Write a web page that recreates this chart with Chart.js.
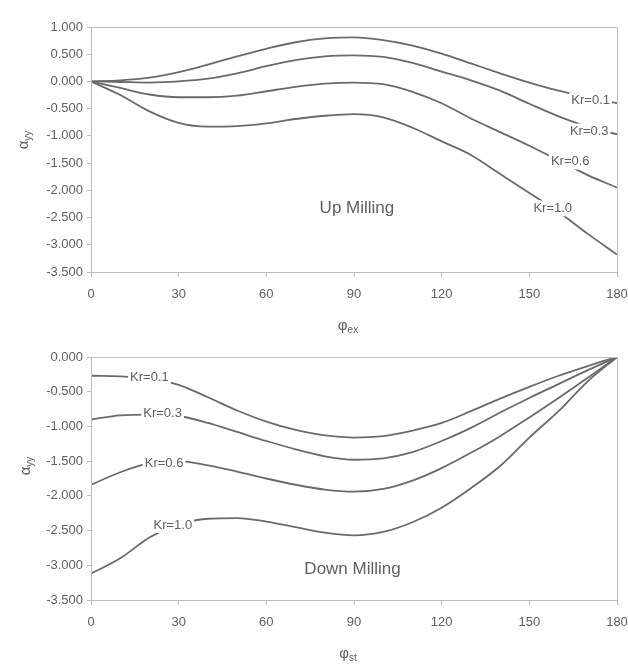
<!DOCTYPE html>
<html>
<head>
<meta charset="utf-8">
<script src="https://cdn.jsdelivr.net/npm/chart.js@4/dist/chart.umd.min.js"></script>
<style>
  html, body { margin: 0; padding: 0; background: #ffffff; }
  body { width: 628px; height: 664px; position: relative; overflow: hidden; }
  #wrapTop { position: absolute; left: 0; top: 0; width: 628px; height: 345px; }
  #wrapBot { position: absolute; left: 0; top: 340px; width: 628px; height: 324px; }
</style>
</head>
<body>
<div id="wrapTop"><canvas id="upChart"></canvas></div>
<div id="wrapBot"><canvas id="downChart"></canvas></div>
<script>
// ---------- data ----------
const angles = [0, 10, 20, 30, 40, 50, 60, 70, 80, 90, 100, 110, 120, 130, 140, 150, 160, 170, 180];
const krLabels = ['Kr=0.1', 'Kr=0.3', 'Kr=0.6', 'Kr=1.0'];

// Up milling (top chart)
const upKr01 = [0, 0.02, 0.07, 0.17, 0.31, 0.46, 0.60, 0.72, 0.79, 0.81, 0.76, 0.66, 0.51, 0.33, 0.15, -0.02, -0.17, -0.29, -0.40];
const upKr03 = [0, -0.01, -0.02, 0.00, 0.05, 0.15, 0.28, 0.39, 0.46, 0.48, 0.45, 0.34, 0.18, 0.02, -0.17, -0.41, -0.64, -0.83, -0.97];
const upKr06 = [0, -0.12, -0.24, -0.29, -0.29, -0.26, -0.18, -0.10, -0.04, -0.02, -0.05, -0.19, -0.40, -0.68, -0.93, -1.18, -1.45, -1.72, -1.95];
const upKr10 = [0, -0.25, -0.55, -0.76, -0.83, -0.82, -0.77, -0.69, -0.63, -0.60, -0.66, -0.85, -1.10, -1.35, -1.70, -2.05, -2.40, -2.80, -3.18];

// Down milling (bottom chart)
const downKr01 = [-0.27, -0.28, -0.31, -0.40, -0.58, -0.77, -0.93, -1.05, -1.13, -1.16, -1.14, -1.06, -0.95, -0.78, -0.60, -0.43, -0.27, -0.13, 0];
const downKr03 = [-0.90, -0.84, -0.83, -0.85, -0.95, -1.08, -1.21, -1.33, -1.43, -1.48, -1.46, -1.37, -1.21, -1.02, -0.80, -0.59, -0.39, -0.19, 0];
const downKr06 = [-1.84, -1.66, -1.53, -1.50, -1.56, -1.65, -1.75, -1.84, -1.91, -1.94, -1.90, -1.78, -1.60, -1.38, -1.14, -0.87, -0.59, -0.30, 0];
const downKr10 = [-3.12, -2.90, -2.60, -2.41, -2.33, -2.32, -2.37, -2.45, -2.53, -2.57, -2.52, -2.38, -2.17, -1.89, -1.57, -1.16, -0.78, -0.35, 0];

// axis ticks
const xTickStep = 30;
const upYRange = [-3.5, 1.0];
const downYRange = [-3.5, 0.0];
const yTickStep = 0.5;

// ---------- styling / layout ----------
const LINE_COLOR = '#6a6a6a';
const TEXT_COLOR = '#606060';
const AXIS_COLOR = '#bdbdbd';
const FONT = '"Liberation Sans", Arial, sans-serif';

function makeDatasets(series) {
  return series.map((vals, i) => ({
    label: krLabels[i],
    data: angles.map((a, j) => ({ x: a, y: vals[j] })),
    borderColor: LINE_COLOR,
    borderWidth: 1.8,
    pointRadius: 0,
    fill: false,
    tension: 0.4,
    cubicInterpolationMode: 'monotone'
  }));
}

// plugin: frame, on-line labels, caption, axis titles with subscripts
const decorPlugin = {
  id: 'decor',
  afterDraw(chart, args, opts) {
    const ctx = chart.ctx;
    const a = chart.chartArea;
    const xs = chart.scales.x, ys = chart.scales.y;
    ctx.save();
    ctx.strokeStyle = AXIS_COLOR;
    ctx.lineWidth = 1;
    ctx.strokeRect(a.left + 0.5, a.top + 0.5, a.right - a.left, a.bottom - a.top);
    ctx.font = '13px ' + FONT;
    ctx.textAlign = 'center';
    ctx.textBaseline = 'middle';
    (opts.labels || []).forEach(l => {
      const px = xs.getPixelForValue(l.x), py = ys.getPixelForValue(l.y);
      const w = ctx.measureText(l.text).width + 4;
      ctx.fillStyle = '#ffffff';
      ctx.fillRect(px - w / 2, py - 8, w, 16);
      ctx.fillStyle = TEXT_COLOR;
      ctx.fillText(l.text, px, py);
    });
    if (opts.caption) {
      ctx.font = '17px ' + FONT;
      ctx.fillStyle = TEXT_COLOR;
      ctx.fillText(opts.caption.text, xs.getPixelForValue(opts.caption.x), ys.getPixelForValue(opts.caption.y));
    }
    const drawSub = (main, sub, x, y) => {
      ctx.font = '15px ' + FONT;
      const w1 = ctx.measureText(main).width;
      ctx.font = '10px ' + FONT;
      const w2 = ctx.measureText(sub).width;
      const start = x - (w1 + w2) / 2;
      ctx.textAlign = 'left';
      ctx.textBaseline = 'alphabetic';
      ctx.fillStyle = TEXT_COLOR;
      ctx.font = '15px ' + FONT;
      ctx.fillText(main, start, y + 5);
      ctx.font = '10px ' + FONT;
      ctx.fillText(sub, start + w1, y + 8);
    };
    if (opts.xTitle) drawSub(opts.xTitle.main, opts.xTitle.sub, opts.xTitle.px, opts.xTitle.py);
    if (opts.yTitle) {
      ctx.save();
      ctx.translate(opts.yTitle.px, opts.yTitle.py);
      ctx.rotate(-Math.PI / 2);
      drawSub(opts.yTitle.main, opts.yTitle.sub, 0, 0);
      ctx.restore();
    }
    ctx.restore();
  }
};

function makeOptions(yRange, xAxisHeight, padTop, decor) {
  return {
    responsive: true,
    maintainAspectRatio: false,
    animation: false,
    layout: { padding: { left: 0, right: 0, top: padTop, bottom: 0 } },
    plugins: { legend: { display: false }, tooltip: { enabled: false }, decor: decor },
    scales: {
      x: {
        type: 'linear', min: 0, max: 180,
        ticks: { stepSize: xTickStep, color: TEXT_COLOR, font: { family: FONT, size: 13 }, padding: 10, maxRotation: 0 },
        grid: { drawOnChartArea: false, drawTicks: true, tickLength: 5, color: AXIS_COLOR },
        border: { color: AXIS_COLOR },
        afterFit: s => { s.height = xAxisHeight; s.paddingRight = 11; }
      },
      y: {
        type: 'linear', min: yRange[0], max: yRange[1],
        ticks: { stepSize: yTickStep, color: TEXT_COLOR, font: { family: FONT, size: 13 }, padding: 4,
                 callback: v => v.toFixed(3) },
        grid: { drawOnChartArea: false, drawTicks: true, tickLength: 4, color: AXIS_COLOR },
        border: { color: AXIS_COLOR },
        afterFit: s => { s.width = 91; }
      }
    }
  };
}

new Chart(document.getElementById('upChart'), {
  type: 'line',
  data: { datasets: makeDatasets([upKr01, upKr03, upKr06, upKr10]) },
  options: makeOptions(upYRange, 73, 27, {
    labels: [
      { x: 171, y: -0.35, text: krLabels[0] },
      { x: 170.5, y: -0.92, text: krLabels[1] },
      { x: 164, y: -1.47, text: krLabels[2] },
      { x: 158, y: -2.33, text: krLabels[3] }
    ],
    caption: { text: 'Up Milling', x: 91, y: -2.33 },
    xTitle: { main: 'φ', sub: 'ex', px: 348, py: 325 },
    yTitle: { main: 'α', sub: 'yy', px: 23, py: 140 }
  }),
  plugins: [decorPlugin]
});

new Chart(document.getElementById('downChart'), {
  type: 'line',
  data: { datasets: makeDatasets([downKr01, downKr03, downKr06, downKr10]) },
  options: makeOptions(downYRange, 64, 17, {
    labels: [
      { x: 20, y: -0.29, text: krLabels[0] },
      { x: 24.5, y: -0.81, text: krLabels[1] },
      { x: 25, y: -1.54, text: krLabels[2] },
      { x: 28, y: -2.42, text: krLabels[3] }
    ],
    caption: { text: 'Down Milling', x: 89.5, y: -3.06 },
    xTitle: { main: 'φ', sub: 'st', px: 348, py: 313 },
    yTitle: { main: 'α', sub: 'yy', px: 25, py: 126 }
  }),
  plugins: [decorPlugin]
});
</script>
</body>
</html>
